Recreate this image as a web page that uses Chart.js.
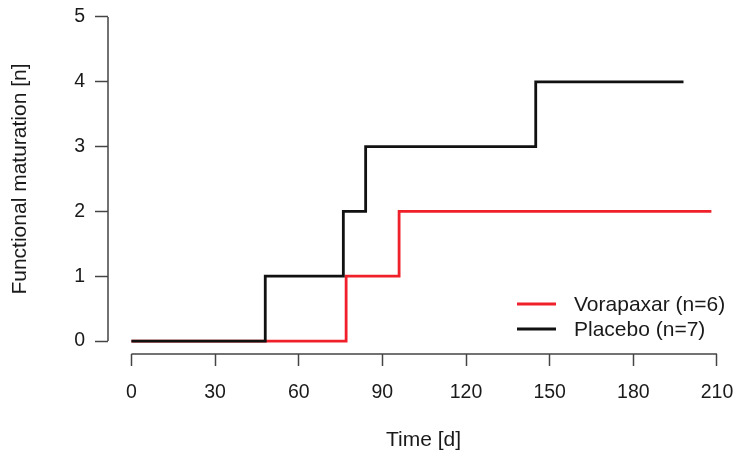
<!DOCTYPE html>
<html>
<head>
    <title>Functional maturation</title>
    <script src="https://cdn.jsdelivr.net/npm/chart.js"></script>
    <style>
        body { margin: 0; background: #fff; }
        #wrap { width: 739px; height: 458px; }
    </style>
</head>
<body>
    <div id="wrap">
        <canvas id="stepChart"></canvas>
    </div>

    <script>
        // tick labels
        const xTicks = [0, 30, 60, 90, 120, 150, 180, 210];
        const yTicks = [0, 1, 2, 3, 4, 5];

        // series (day of event, cumulative count)
        const vorapaxarDays = [0, 77, 96, 208];
        const vorapaxarCount = [0, 1, 2, 2];
        const placeboDays = [0, 48, 76, 84, 145, 198];
        const placeboCount = [0, 1, 2, 3, 4, 4];

        const seriesLabels = ['Vorapaxar (n=6)', 'Placebo (n=7)'];

        const fontFamily = '"Liberation Sans", Arial, sans-serif';
        const tickSize = 19.5;
        const labelSize = 21;
        const textColor = '#1a1a1a';
        const axisColor = '#444';

        function toPoints(xs, ys) {
            return xs.map((x, i) => ({ x: x, y: ys[i] }));
        }

        // R style: axis line only spans first to last tick
        const rAxes = {
            id: 'rAxes',
            afterDraw(chart) {
                const ctx = chart.ctx;
                const xs = chart.scales.x, ys = chart.scales.y;
                const area = chart.chartArea;
                ctx.save();
                ctx.strokeStyle = axisColor;
                ctx.lineWidth = 1.5;
                ctx.beginPath();
                ctx.moveTo(xs.getPixelForValue(xTicks[0]), area.bottom);
                ctx.lineTo(xs.getPixelForValue(xTicks[xTicks.length - 1]), area.bottom);
                ctx.moveTo(area.left, ys.getPixelForValue(yTicks[0]));
                ctx.lineTo(area.left, ys.getPixelForValue(yTicks[yTicks.length - 1]));
                ctx.stroke();
                ctx.restore();
            }
        };

        // legend in the lower right of the plot
        const cornerLegend = {
            id: 'cornerLegend',
            afterDraw(chart) {
                const ctx = chart.ctx;
                const area = chart.chartArea;
                const x0 = area.right - 222;
                const y0 = area.bottom - 50;
                ctx.save();
                ctx.font = labelSize + 'px ' + fontFamily;
                ctx.textBaseline = 'middle';
                ctx.fillStyle = textColor;
                chart.data.datasets.forEach((ds, i) => {
                    const y = y0 + i * 25;
                    ctx.strokeStyle = ds.borderColor;
                    ctx.lineWidth = 2.8;
                    ctx.beginPath();
                    ctx.moveTo(x0, y);
                    ctx.lineTo(x0 + 39, y);
                    ctx.stroke();
                    ctx.fillText(ds.label, x0 + 57, y + 1);
                });
                ctx.restore();
            }
        };

        const ctx = document.getElementById('stepChart').getContext('2d');
        const chart = new Chart(ctx, {
            type: 'line',
            data: {
                datasets: [{
                    label: seriesLabels[0],
                    data: toPoints(vorapaxarDays, vorapaxarCount),
                    borderColor: '#f0202a',
                    borderWidth: 2.8,
                    stepped: 'before',
                    pointRadius: 0,
                    fill: false,
                    order: 1
                }, {
                    label: seriesLabels[1],
                    data: toPoints(placeboDays, placeboCount),
                    borderColor: '#111',
                    borderWidth: 2.8,
                    stepped: 'before',
                    pointRadius: 0,
                    fill: false,
                    order: 0
                }]
            },
            options: {
                responsive: true,
                maintainAspectRatio: false,
                animation: false,
                layout: { padding: { top: 4, right: 0, bottom: 0, left: 0 } },
                plugins: {
                    legend: { display: false },
                    tooltip: { enabled: false }
                },
                scales: {
                    x: {
                        type: 'linear',
                        min: -8.4,
                        max: 217.9,
                        afterBuildTicks: (s) => { s.ticks = xTicks.map(v => ({ value: v })); },
                        afterFit: (s) => {
                            s.height = 104;
                            s.paddingLeft = 0;
                            s.paddingRight = 0;
                        },
                        grid: {
                            drawOnChartArea: false,
                            drawTicks: true,
                            tickLength: 12,
                            tickWidth: 1.5,
                            tickColor: axisColor
                        },
                        border: { display: false },
                        ticks: {
                            color: textColor,
                            padding: 15,
                            maxRotation: 0,
                            autoSkip: false,
                            font: { family: fontFamily, size: tickSize }
                        },
                        title: {
                            display: true,
                            text: 'Time [d]',
                            color: textColor,
                            font: { family: fontFamily, size: labelSize },
                            padding: { top: 0, bottom: 5 }
                        }
                    },
                    y: {
                        type: 'linear',
                        min: -0.2,
                        max: 5.2,
                        afterBuildTicks: (s) => { s.ticks = yTicks.map(v => ({ value: v })); },
                        afterFit: (s) => {
                            s.width = 108;
                            s.paddingTop = 0;
                            s.paddingBottom = 0;
                        },
                        grid: {
                            drawOnChartArea: false,
                            drawTicks: true,
                            tickLength: 13,
                            tickWidth: 1.5,
                            tickColor: axisColor
                        },
                        border: { display: false },
                        ticks: {
                            color: textColor,
                            padding: 10,
                            autoSkip: false,
                            font: { family: fontFamily, size: tickSize }
                        },
                        title: {
                            display: true,
                            text: 'Functional maturation [n]',
                            color: textColor,
                            font: { family: fontFamily, size: labelSize },
                            padding: { top: 8, bottom: 0 }
                        }
                    }
                }
            },
            plugins: [rAxes, cornerLegend]
        });
    </script>
</body>
</html>
